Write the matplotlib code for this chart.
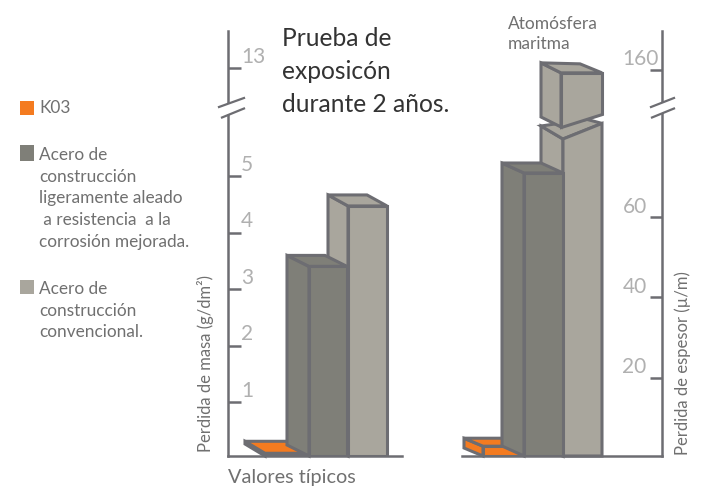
import matplotlib
matplotlib.use('Agg')
import matplotlib.pyplot as plt
import numpy as np
from matplotlib.patches import Polygon, Rectangle
from matplotlib.transforms import IdentityTransform

WIDTH, HEIGHT = 709, 488

# valores de las barras
mass_k03 = 0.05
mass_low_alloy = 3.4
mass_carbon = 4.47
thick_k03 = 2.5
thick_low_alloy = 71
thick_carbon_cut = (79.5, 83.4)     # corte inclinado, tramo inferior
thick_block_bottom = (82.5, 89.8)   # corte inclinado, tramo superior
thick_block_top = 155

mass_ticks = [1, 2, 3, 4, 5, 13]
thick_ticks = [20, 40, 60, 160]

# escala con eje partido: valor -> fila de pixel
mass_vals = [0, 1, 5, 6.05, 13, 14.0]
mass_rows = [456, 402, 176, 117, 67.7, 31]
thick_vals = [0, 20, 60, 85, 160, 181]
thick_rows = [456, 377.7, 217, 117, 69.7, 31]

ORANGE = '#f47b20'
DARK = '#7f7f78'
LIGHT = '#a9a69d'
EDGE = '#6d6d72'
TICK_TEXT = '#b0b0b0'
LABEL = '#707070'
FONT = 'Lato'

plt.rcParams['font.family'] = [FONT, 'DejaVu Sans']


def broken_scale(ax, vals, rows):
    def forward(v):
        return -np.interp(v, vals, rows)

    def inverse(r):
        return np.interp(-np.asarray(r), rows[::-1], vals[::-1])
    ax.set_yscale('function', functions=(forward, inverse))
    ax.set_ylim(vals[0], vals[-1])


def make_axis(x0, x1, vals, rows, side):
    ax = fig.add_axes([x0 / WIDTH, (HEIGHT - 456) / HEIGHT, (x1 - x0) / WIDTH, (456 - 31) / HEIGHT])
    ax.patch.set_alpha(0)
    broken_scale(ax, vals, rows)
    ax.set_xlim(x0, x1)
    ax.set_xticks([])
    for s in ax.spines.values():
        s.set_visible(False)
    ax.spines['bottom'].set_visible(True)
    ax.spines[side].set_visible(True)
    for s in ('bottom', side):
        ax.spines[s].set_color(EDGE)
        ax.spines[s].set_linewidth(1.8)
    ax.yaxis.set_ticks_position(side)
    ax.tick_params(axis='y', direction='in', length=9, width=1.8, color=EDGE, labelleft=False, labelright=False)
    return ax


def pt(ax, x, v, dx=0, dy=0):
    px, py = ax.transData.transform((x, v))
    return (px + dx, py - dy)


def face(ax, pts, color, z):
    ax.add_patch(Polygon(pts, closed=True, facecolor=color, edgecolor=EDGE, linewidth=2.2, joinstyle='miter',
                         transform=IdentityTransform(), clip_on=False, zorder=z))


def box(ax, x0, x1, value, color, dx, dy, z):
    # cara lateral, tapa y frente de una barra con perspectiva
    tl = pt(ax, x0, value)
    tr = pt(ax, x1, value)
    bl = pt(ax, x0, 0)
    face(ax, [bl, tl, pt(ax, x0, value, dx, dy), pt(ax, x0, 0, dx, dy)], color, z)
    face(ax, [tl, tr, pt(ax, x1, value, dx, dy), pt(ax, x0, value, dx, dy)], color, z)
    ax.bar((x0 + x1) / 2, value, x1 - x0, color=color, edgecolor=EDGE, linewidth=2.2, zorder=z + 0.1)
    return tl, tr


fig = plt.figure(figsize=(WIDTH / 100, HEIGHT / 100), dpi=100)

ax_mass = make_axis(228, 402, mass_vals, mass_rows, 'left')
ax_thick = make_axis(462, 662, thick_vals, thick_rows, 'right')

# barras de la izquierda
box(ax_mass, 265, 307, mass_k03, ORANGE, -20, -12, 2)
box(ax_mass, 348, 387, mass_carbon, LIGHT, -20, -11, 3)
box(ax_mass, 309, 347, mass_low_alloy, DARK, -22, -11, 4)

# barras de la derecha
box(ax_thick, 483, 524, thick_k03, ORANGE, -19, -8, 2)

# tramo inferior de la barra clara, con el corte inclinado
x0, x1 = 563, 602
low_l = pt(ax_thick, x0, thick_carbon_cut[0])
low_r = pt(ax_thick, x1, thick_carbon_cut[1])
face(ax_thick, [pt(ax_thick, x0, 0), low_l, pt(ax_thick, x0, thick_carbon_cut[0], -22, -13),
                pt(ax_thick, x0, 0, -22, -13)], LIGHT, 3)
face(ax_thick, [low_l, low_r, pt(ax_thick, x1, thick_carbon_cut[1], -15, -4),
                pt(ax_thick, x0, thick_carbon_cut[0], -22, -13)], LIGHT, 3)
face(ax_thick, [pt(ax_thick, x0, 0), low_l, low_r, pt(ax_thick, x1, 0)], LIGHT, 3.1)

# bloque superior de la barra clara
x0b = 561
bot_l = pt(ax_thick, x0b, thick_block_bottom[0])
bot_r = pt(ax_thick, x1, thick_block_bottom[1])
top_l = pt(ax_thick, x0b, thick_block_top)
top_r = pt(ax_thick, x1, thick_block_top)
face(ax_thick, [bot_l, top_l, pt(ax_thick, x0b, thick_block_top, -20, -10),
                pt(ax_thick, x0b, thick_block_bottom[0], -20, -10)], LIGHT, 5)
face(ax_thick, [top_l, top_r, pt(ax_thick, x1, thick_block_top, -22, -9),
                pt(ax_thick, x0b, thick_block_top, -20, -10)], LIGHT, 5)
face(ax_thick, [bot_l, top_l, top_r, bot_r], LIGHT, 5.1)

box(ax_thick, 524, 563, thick_low_alloy, DARK, -22, -10, 4)

ax_mass.set_yticks(mass_ticks)
ax_thick.set_yticks(thick_ticks)
for t in mass_ticks:
    ax_mass.annotate(str(t), (228, t), xytext=(9.4, 8), textcoords='offset points', fontsize=15, color=TICK_TEXT,
                     ha='left', va='center')
for t in thick_ticks:
    ax_thick.annotate(str(t), (662, t), xytext=(-28.5, 7.5), textcoords='offset points', fontsize=15, color=TICK_TEXT,
                      ha='left', va='center')

# capa en pixeles para textos, leyenda y marcas de corte
page = fig.add_axes([0, 0, 1, 1], zorder=10)
page.set_xlim(0, WIDTH)
page.set_ylim(HEIGHT, 0)
page.axis('off')

for ax_x, x_a, x_a2, x_b in ((228, 219, 222, 244), (662, 651, 652, 674)):
    page.add_patch(Polygon([(x_a, 107), (x_b, 98), (x_b, 108), (x_a2, 117)], closed=True, facecolor='white',
                           edgecolor='none'))
    page.plot([x_a, x_b], [107, 98], color=EDGE, lw=1.6)
    page.plot([x_a2, x_b], [117.5, 108.5], color=EDGE, lw=1.6)

page.text(282, 71.5, 'Prueba de\nexposicón\ndurante 2 años.', fontsize=17.7, color='#333333', va='center', linespacing=1.5)
page.text(508, 34, 'Atomósfera\nmaritma', fontsize=12.5, color=LABEL, va='center', linespacing=1.25)
page.text(228, 478, 'Valores típicos', fontsize=14.3, color=LABEL, va='center')
page.text(206, 364, 'Perdida de masa (g/dm²)', fontsize=12, color=LABEL, rotation=90, va='center', ha='center')
page.text(683, 363, 'Perdida de espesor (µ/m)', fontsize=12, color=LABEL, rotation=90, va='center', ha='center')

page.add_patch(Rectangle((20, 101), 14, 14, facecolor=ORANGE, edgecolor='none'))
page.add_patch(Rectangle((20, 145), 14, 16, facecolor=DARK, edgecolor='none'))
page.add_patch(Rectangle((20, 280), 14, 14, facecolor=LIGHT, edgecolor='none'))
page.text(39, 108, 'K03', fontsize=12.4, color=LABEL, va='center')
page.text(39, 198.5, 'Acero de\nconstrucción\nligeramente aleado\n a resistencia  a la\ncorrosión mejorada.',
          fontsize=12.4, color=LABEL, va='center', linespacing=1.45)
page.text(39, 310.5, 'Acero de\nconstrucción\nconvencional.', fontsize=12.4, color=LABEL, va='center', linespacing=1.45)

fig.savefig('out.png', dpi=100)
plt.close(fig)
